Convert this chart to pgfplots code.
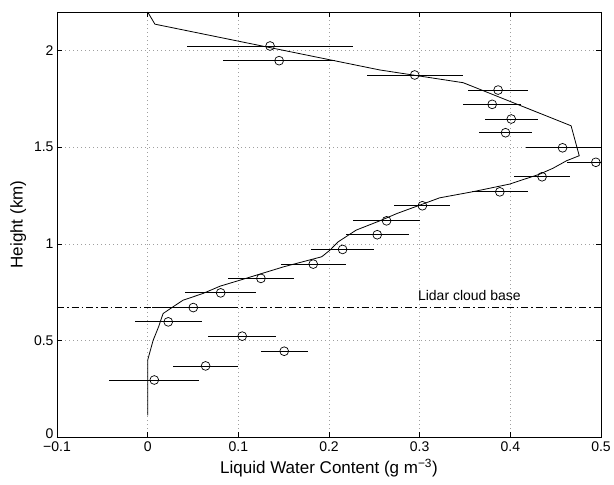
\documentclass[border=0pt]{standalone}
\usepackage{pgfplots}
\pgfplotsset{compat=1.18}
\usepackage{pgfplotstable}
\usepackage{fontspec}
\setmainfont{Liberation Sans}

% Retrieved liquid water content with its uncertainty (g m^-3) against height (km)
\pgfplotstableread{
x       y      ex
0.1350  2.024  0.0915
0.1450  1.948  0.0620
0.2945  1.874  0.0530
0.3865  1.796  0.0335
0.3800  1.722  0.0320
0.4010  1.646  0.0290
0.3947  1.575  0.0290
0.4576  1.497  0.0400
0.4943  1.422  0.0320
0.4350  1.347  0.0310
0.3884  1.269  0.0310
0.3030  1.197  0.0310
0.2635  1.119  0.0370
0.2532  1.047  0.0346
0.2150  0.971  0.0350
0.1826  0.895  0.0360
0.1249  0.821  0.0360
0.0805  0.746  0.0395
0.0503  0.670  0.0450
0.0227  0.596  0.0370
0.1043  0.522  0.0377
0.1506  0.444  0.0260
0.0639  0.368  0.0355
0.0073  0.295  0.0495
}\lwcobs

% Model profile
\pgfplotstableread{
x      y
0.000  2.200
0.008  2.137
0.256  1.900
0.348  1.834
0.467  1.611
0.476  1.456
0.462  1.430
0.447  1.391
0.432  1.360
0.399  1.309
0.359  1.270
0.322  1.238
0.300  1.200
0.275  1.157
0.256  1.119
0.230  1.071
0.210  1.010
0.201  0.967
0.192  0.933
0.150  0.881
0.102  0.812
0.080  0.781
0.061  0.743
0.039  0.708
0.028  0.674
0.017  0.639
0.012  0.570
0.006  0.500
0.001  0.415
0.000  0.397
0.000  0.112
}\lwcprofile

\begin{document}
\begin{tikzpicture}
\useasboundingbox (0,0) rectangle (614bp,485bp);
\begin{axis}[
  at={(57bp,48bp)}, anchor=south west,
  scale only axis, width=544bp, height=425bp,
  xmin=-0.1, xmax=0.5, ymin=0, ymax=2.2,
  xtick={-0.1,0,0.1,0.2,0.3,0.4,0.5},
  ytick={0,0.5,1,1.5,2},
  xticklabels={−0.1,0,0.1,0.2,0.3,0.4,0.5},
  yticklabels={\raisebox{7bp}{0},0.5,1,1.5,2},
  tick align=inside, major tick length=5bp,
  grid=major,
  grid style={gray!75, dash pattern=on 1bp off 3bp, line width=0.6bp},
  axis line style={line width=0.8bp},
  tick style={black, line width=0.6bp},
  ticklabel style={font=\fontsize{14bp}{16bp}\selectfont},
  xticklabel style={yshift=-1.5bp},
  label style={font=\fontsize{17bp}{20bp}\selectfont},
  ylabel style={yshift=1bp},
  xlabel={Liquid Water Content (g m\textsuperscript{−3})},
  ylabel={Height (km)},
  clip marker paths=true,
]
\addplot[black, line width=0.8bp, no marks] table[x=x, y=y] {\lwcprofile};
\addplot[black, line width=0.7bp, dash pattern=on 7bp off 3bp on 1.5bp off 3bp, no marks]
  coordinates {(-0.1,0.67) (0.5,0.67)};
\addplot[black, line width=0.7bp, only marks, mark=o, mark size=4.4bp,
  mark options={line width=0.7bp},
  error bars/.cd, x dir=both, x explicit, error mark=none,
  error bar style={line width=0.8bp}]
  table[x=x, y=y, x error=ex] {\lwcobs};
\node[anchor=west, font=\fontsize{14bp}{16bp}\selectfont, inner sep=0pt]
  at (axis cs:0.298,0.734) {Lidar cloud base};
\end{axis}
\end{tikzpicture}
\end{document}
